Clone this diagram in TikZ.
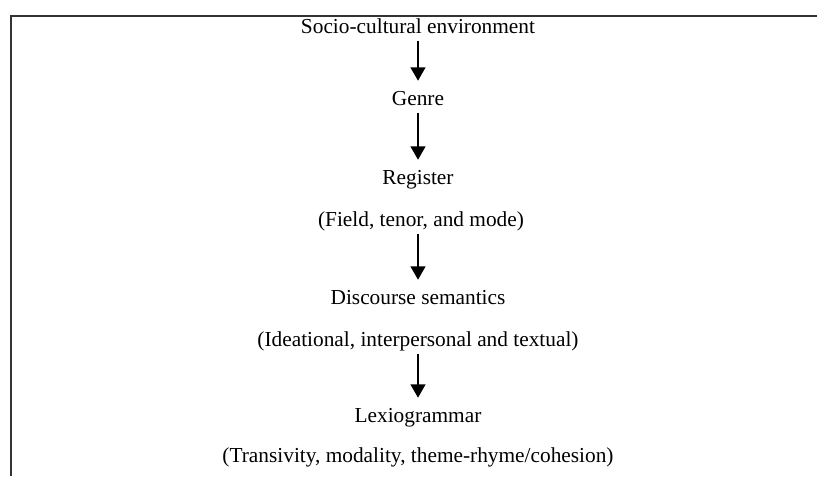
\documentclass[tikz,border=0pt]{standalone}
\usepackage{fontspec}
\setmainfont{Liberation Serif}
\usetikzlibrary{arrows.meta}

\begin{document}
\begin{tikzpicture}[x = 0.75pt, y = -0.75pt,
    font = \fontsize{16}{19}\selectfont,
    stage/.style = {inner sep = 0, text height = 11pt, text depth = 3.5pt},
    down/.style = {line width = 1.5pt, -{Triangle[width = 11pt, length = 10pt]},
      shorten < = 2pt, shorten > = 7pt}]
  \useasboundingbox (0, 0) rectangle (817, 476);

  % frame
  \draw[line width = 1.5pt, black!80] (11, 476) coordinate (fb)
    -- (11, 16) coordinate (fc) -- (817, 16) coordinate (fr);

  \node[stage] (socio) at (418, 28) {Socio-cultural environment};
  \node[stage] (genre) at (418, 100) {Genre};
  \node[stage] (register) at (418, 179) {Register};
  \node[stage] (field) at (421, 221) {(Field, tenor, and mode)};
  \node[stage] (discourse) at (418, 299) {Discourse semantics};
  \node[stage] (ideational) at (418, 341) {(Ideational, interpersonal and textual)};
  \node[stage] (lexio) at (418, 417) {Lexiogrammar};
  \node[stage] (transivity) at (418, 457) {(Transivity, modality, theme-rhyme/cohesion)};

  \draw[down] (socio) -- (genre);
  \draw[down] (genre) -- (register);
  \draw[down] (field.south -| discourse) -- (discourse);
  \draw[down] (ideational) -- (lexio);
\end{tikzpicture}
\end{document}
